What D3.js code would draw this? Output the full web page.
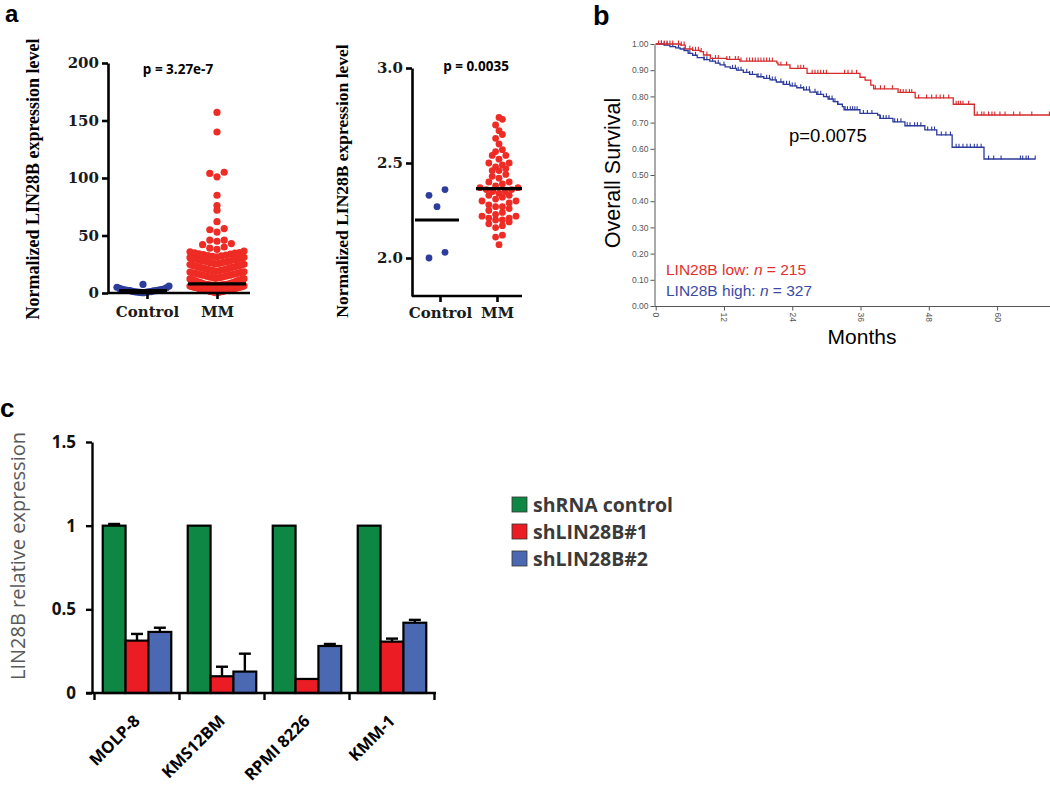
<!DOCTYPE html>
<html><head><meta charset="utf-8">
<script src="https://cdn.jsdelivr.net/npm/d3@7"></script>
<style>
body{margin:0;background:#fff}
svg{display:block}
.ax path,.ax line{stroke:#000;stroke-width:2.6;fill:none}
.ax text{font-family:"DejaVu Serif",serif;font-weight:bold;font-size:15px;fill:#1a1a1a}
.km path,.km line{stroke:#555;stroke-width:1;fill:none}
.km text{font-family:"Liberation Sans",Arial,sans-serif;font-size:8.5px;fill:#555}
.bx path,.bx line{stroke:#000;stroke-width:2.4;fill:none}
.bx text{font-family:"Open Sans",sans-serif;font-weight:bold;font-size:17px;fill:#111}
</style>
</head><body>
<svg id="c" width="1050" height="787"></svg>
<script>
// ---------------- Panel a data ----------------
const groupsA = ["Control", "MM"];
const ctrlLeft = [0.3,0.5,0.6,0.8,1.0,1.0,1.2,1.5,1.8,2.0,2.0,2.2,2.5,2.8,3.0,3.2,3.5,4.0,4.5,5.0,6.0,7.5];
const mmLeft = [157,140,105,104,101,85,76,72,62,56,55,53,46,46,45,43,42,40,39,38,
  36.5,35.8,35.2,35,34.6,34.1,33.9,33.4,33,32.6,32.2,31.8,31.4,31,30.7,30.4,30.1,29.8,
  29.5,29.2,28.9,28.6,28.3,28,27.7,27.4,27.1,26.8,26.5,26.2,25.9,25.6,25.3,25,24.7,24.4,24.1,23.8,23.5,23.2,
  22.9,22.6,22.3,22,21.7,21.4,21.1,20.8,20.5,20.2,20,19.7,19.4,19.1,18.8,18.5,18.2,17.9,17.6,17.3,
  17,16.7,16.4,16.1,15.8,15.5,15.2,14.9,14.6,14.3,14,13.7,13.4,13.1,12.8,12.5,12.2,11.9,11.6,11.3,
  11,10.7,10.4,10.1,9.8,9.5,9.2,8.9,8.6,8.3,8,
  7.8,7.5,7.2,7,6.8,6.5,6.2,6,5.8,5.5,5.2,5,4.8,4.5,4.2,4,3.8,3.5,3.2,3,2.8,2.5,2.2,2,1.8,1.5,1.2,1,0.8,0.5,
  7.6,7.1,6.6,6.1,5.6,5.1,4.6,4.1,3.6,3.1,2.6,2.1,1.6,1.1,0.6,7.3,6.3,5.3,4.3,3.3,2.3,1.3,0.3,
  6.9,5.9,4.9,3.9,2.9,1.9,0.9,6.4,4.4,2.4,0.4,5.4,3.4,1.4];
const meanLeft = [2.0, 8.0];
const ctrlRight = [2.00, 2.03, 2.27, 2.33, 2.36];
const mmRight = [2.74,2.73,2.70,2.67,2.65,2.63,2.60,2.57,2.56,2.54,2.54,2.52,2.50,2.50,2.49,2.48,2.47,2.46,2.46,2.44,
  2.43,2.42,2.40,2.40,2.39,2.38,2.37,2.37,2.36,2.36,2.35,2.35,2.34,2.33,2.33,2.32,2.31,2.30,2.30,2.29,
  2.28,2.27,2.27,2.26,2.25,2.24,2.23,2.22,2.22,2.21,2.21,2.20,2.20,2.19,2.18,2.17,2.16,2.12,2.11,2.07];
const meanRight = [2.20, 2.365];
const pLeft = "p = 3.27e-7", pRight = "p = 0.0035";
const yTicksLeft = [0, 50, 100, 150, 200];
const yTicksRight = [2.0, 2.5, 3.0];

// ---------------- Panel b data ----------------
const kmLow = [[0,1],[4.3,0.996],[5.2,0.981],[6.5,0.976],[7.8,0.971],[8.4,0.958],[9.6,0.945],[12.5,0.941],[14.8,0.935],
  [21.3,0.928],[21.5,0.92],[23.6,0.907],[26.6,0.888],[35.9,0.873],[36.8,0.862],[37.8,0.843],[38.3,0.829],
  [42.6,0.815],[45.6,0.794],[52.3,0.770],[56,0.729],[69.3,0.729]];
const kmHigh = [[0,1],[1.5,0.996],[2.5,0.99],[3.5,0.985],[4.3,0.981],[5,0.975],[5.7,0.964],[6.5,0.957],[7.3,0.948],
  [8.5,0.94],[9.5,0.935],[10.5,0.927],[11.3,0.92],[12.2,0.913],[13.1,0.907],[14.2,0.9],[15.4,0.892],[16.5,0.884],
  [17.8,0.875],[19,0.869],[20.1,0.863],[21.2,0.855],[22.4,0.846],[23.6,0.84],[24.8,0.833],[26,0.825],[27.1,0.816],
  [28.3,0.808],[29.5,0.799],[30.3,0.79],[31.2,0.78],[32,0.77],[32.8,0.761],[33.1,0.749],[35.9,0.735],[39,0.729],
  [39.4,0.716],[41.7,0.703],[43.8,0.688],[47.3,0.672],[49.4,0.653],[52.1,0.606],[57.7,0.561],[66.7,0.561]];
const censLow = [0.5,1,1.5,2,2.5,3,4,4.5,5,6,6.5,7,7.5,8,9,10.5,11,12.5,13,14,14.5,15,16,16.5,17,17.5,18,18.5,19,19.5,
  20,20.5,22,23,25,25.5,26,27.5,28,28.5,29,29.5,30,33.2,33.8,34.5,35.3,38.6,39.5,40.2,41.6,43,43.5,44,44.6,45,
  46.2,47.6,48.5,49.3,50,50.6,51.5,52.8,53.2,53.6,54,55,56.5,57.3,57.7,58.5,59.1,59.6,60.5,61.4,62.9,64,66.1,69.2];
const censHigh = [1,1.5,2,3,4,5,6,7,8.5,9,10,11,12,13.5,14,14.5,15,16,16.5,17,18,18.5,19.5,20,20.5,21,22,22.5,23,23.5,
  24,24.5,25.5,26,26.5,27,28,28.5,29,30,30.5,31,31.5,32,33.3,33.7,34.2,34.6,35,35.4,36.5,37.2,38,39.5,40,40.5,41,
  42,42.5,43.1,44.2,44.7,45.5,46,46.6,47.8,48.5,49,50.2,51,51.8,52.8,53.3,54,54.7,55.3,56,56.5,57.2,58.5,59.4,60.7,
  64.1,64.5,65.1,65.5,66.7];
const kmYTicks = [0,0.1,0.2,0.3,0.4,0.5,0.6,0.7,0.8,0.9,1.0];
const kmXTicks = [0, 12, 24, 36, 48, 60];
const kmLegend = [["LIN28B low: ", "n", " = 215"], ["LIN28B high: ", "n", " = 327"]];
const kmP = "p=0.0075";

// ---------------- Panel c data ----------------
const cellLines = ["MOLP-8", "KMS12BM", "RPMI 8226", "KMM-1"];
const seriesNames = ["shRNA control", "shLIN28B#1", "shLIN28B#2"];
const shControl = [1.0, 1.0, 1.0, 1.0];
const sh1 = [0.313, 0.100, 0.084, 0.307];
const sh2 = [0.365, 0.128, 0.281, 0.420];
const errControl = [0.01, 0, 0, 0];
const err1 = [0.04, 0.057, 0, 0.018];
const err2 = [0.025, 0.107, 0.012, 0.017];
const barTicks = [0, 0.5, 1, 1.5];

// ======================================================
const svg = d3.select("#c");
const label = (t, x, y, s) => svg.append("text").attr("x", x).attr("y", y).text(t)
  .style("font-family", "'Liberation Sans',Arial,sans-serif").style("font-weight", "bold").style("font-size", s + "px");
label("a", 5, 22, 24); label("b", 593, 24.5, 27); label("c", 0, 417, 26);

// bin-based beeswarm (GraphPad-like)
function swarm(values, yS, cx, r, maxW, opt) {
  const h = opt.h || 2 * r, off = opt.off || 0, msp = opt.msp || 2 * r, y0 = yS.range()[0];
  const bins = d3.group(values.map(v => ({v, y: yS(v)})), d => Math.floor((y0 - d.y) / h + off));
  const out = [];
  for (const [, arr] of bins) {
    arr.sort((a, b) => a.v - b.v);
    const n = arr.length;
    const sp = n > 1 ? Math.min(msp, maxW / (n - 1)) : 0;
    const offs = d3.range(n).map(i => (i - (n - 1) / 2) * sp)
      .sort((a, b) => Math.abs(a) - Math.abs(b) || a - b);
    arr.forEach((d, i) => out.push({x: cx + offs[i], y: d.y}));
  }
  return out;
}

function scatterPanel(o) {
  const g = svg.append("g");
  const y = d3.scaleLinear().domain(o.ydom).range(o.yrange);
  const x = d3.scalePoint().domain(groupsA).range(o.xpts);
  const sets = [[o.ctrl, "#2c3d9c", o.wC, o.optC], [o.mm, "#ee2b24", o.wM, {}]];
  sets.forEach(([vals, col, w, opt], i) => {
    const pts = swarm(vals, y, x(groupsA[i]) + o.shift[i], o.r, w, opt);
    g.append("g").selectAll("circle").data(pts).join("circle")
      .attr("cx", d => d.x).attr("cy", d => d.y).attr("r", o.r).attr("fill", col);
  });
  o.means.forEach((m, i) => {
    const cx = x(groupsA[i]) + o.shift[i];
    g.append("line").attr("x1", cx - o.mw[i]).attr("x2", cx + o.mw[i])
      .attr("y1", y(m)).attr("y2", y(m)).attr("stroke", "#000").attr("stroke-width", 3.2);
  });
  g.append("g").attr("class", "ax").attr("transform", `translate(${o.ax},0)`)
    .call(d3.axisLeft(y).tickValues(o.ticks).tickFormat(o.fmt).tickSize(6).tickSizeOuter(0).tickPadding(o.tp));
  const xa = g.append("g").attr("class", "ax").attr("transform", `translate(0,${o.yrange[0]})`)
    .call(d3.axisBottom(x).tickSize(6).tickSizeOuter(0).tickPadding(o.xp));
  xa.select(".domain").attr("d", `M${o.ax},0H${o.xend}`);
  g.append("text").attr("transform", `translate(${o.tx},${o.ty}) rotate(-90)`).attr("text-anchor", "middle")
    .style("font-family", "'Liberation Serif',serif").style("font-weight", "bold").style("font-size", o.tfs + "px")
    .text("Normalized LIN28B expression level");
  g.append("text").attr("x", o.px).attr("y", o.py).attr("text-anchor", "middle")
    .style("font-family", "'Open Sans',sans-serif").style("font-weight", "bold").style("font-size", "13.5px")
    .text(o.p);
}

scatterPanel({ydom: [0, 200], yrange: [293, 63], xpts: [147, 217], shift: [-4, 0], ctrl: ctrlLeft, mm: mmLeft,
  r: 3.6, wC: 52, wM: 54, optC: {}, means: meanLeft, mw: [24, 29], ax: 108, xend: 250, ticks: yTicksLeft,
  fmt: d3.format("d"), tp: 3, xp: 7, tx: 39, ty: 179, tfs: 18, px: 178, py: 74, p: pLeft});
scatterPanel({ydom: [1.8, 3.0], yrange: [296, 68], xpts: [440, 497], shift: [-3, 2], ctrl: ctrlRight, mm: mmRight,
  r: 3.4, wC: 21, wM: 38, optC: {h: 14, off: 0.3, msp: 16}, means: meanRight, mw: [22, 23], ax: 412, xend: 522,
  ticks: yTicksRight, fmt: d3.format(".1f"), tp: 3, xp: 5, tx: 348, ty: 181, tfs: 17.5, px: 476, py: 71, p: pRight});

// ---------------- Panel b ----------------
{
  const g = svg.append("g");
  const x = d3.scaleLinear().domain([0, 69.3]).range([655.7, 1050]);
  const y = d3.scaleLinear().domain([0, 1]).range([306, 44]);
  g.append("g").attr("class", "km").attr("transform", "translate(654.5,0)")
    .call(d3.axisLeft(y).tickValues(kmYTicks).tickFormat(d3.format(".2f")).tickSize(4).tickSizeOuter(0).tickPadding(2));
  const xa = g.append("g").attr("class", "km").attr("transform", "translate(0,306.5)")
    .call(d3.axisBottom(x).tickValues(kmXTicks).tickSize(4).tickSizeOuter(0));
  xa.select(".domain").attr("d", "M654.5,0H1050");
  xa.selectAll(".tick text").attr("y", 0).attr("x", 6).attr("dy", ".35em")
    .attr("transform", "rotate(90)").style("text-anchor", "start");
  const curves = [[kmHigh, censHigh, "#2b3a9b"], [kmLow, censLow, "#d62a2c"]];
  const line = d3.line().x(d => x(d[0])).y(d => y(d[1])).curve(d3.curveStepAfter);
  const surv = (km, t) => { let s = 1; for (const p of km) if (p[0] <= t) s = p[1]; return s; };
  curves.forEach(([km, cens, col]) => {
    g.append("path").attr("d", line(km)).attr("fill", "none").attr("stroke", col).attr("stroke-width", 1.3);
    g.append("g").selectAll("line").data(cens).join("line")
      .attr("x1", d => x(d)).attr("x2", d => x(d))
      .attr("y1", d => y(surv(km, d)) - 3.5).attr("y2", d => y(surv(km, d)) + 0.5)
      .attr("stroke", col).attr("stroke-width", 1.1);
  });
  g.append("text").attr("transform", "translate(620,173) rotate(-90)").attr("text-anchor", "middle")
    .style("font-family", "'Liberation Sans',Arial,sans-serif").style("font-size", "21.5px").text("Overall Survival");
  g.append("text").attr("x", 862).attr("y", 344).attr("text-anchor", "middle")
    .style("font-family", "'Liberation Sans',Arial,sans-serif").style("font-size", "21px").text("Months");
  g.append("text").attr("x", 789).attr("y", 142)
    .style("font-family", "'Liberation Sans',Arial,sans-serif").style("font-size", "18.5px").text(kmP);
  const legCols = ["#e3302d", "#3b4aa6"];
  kmLegend.forEach((parts, i) => {
    const t = g.append("text").attr("x", 666).attr("y", 275 + i * 21)
      .style("font-family", "'Liberation Sans',Arial,sans-serif").style("font-size", "15.5px").attr("fill", legCols[i]);
    parts.forEach((p, j) => t.append("tspan").text(p).style("font-style", j === 1 ? "italic" : "normal"));
  });
}

// ---------------- Panel c ----------------
{
  const g = svg.append("g");
  const y = d3.scaleLinear().domain([0, 1.5]).range([693, 442]);
  const x0 = d3.scaleBand().domain(cellLines).range([94.5, 434.5]);
  const x1 = d3.scaleBand().domain(seriesNames).range([0, x0.bandwidth()]).paddingOuter(0.36);
  const cols = ["#0f8744", "#ec1c24", "#4b69b3"];
  const vals = [shControl, sh1, sh2], errs = [errControl, err1, err2];
  const data = [];
  cellLines.forEach((c, i) => seriesNames.forEach((s, j) => data.push({c, s, j, v: vals[j][i], e: errs[j][i]})));
  g.append("g").selectAll("g").data(data.filter(d => d.e > 0)).join("g").each(function (d) {
    const cx = x0(d.c) + x1(d.s) + x1.bandwidth() / 2;
    const sel = d3.select(this);
    sel.append("line").attr("x1", cx).attr("x2", cx).attr("y1", y(d.v)).attr("y2", y(d.v + d.e))
      .attr("stroke", "#000").attr("stroke-width", 2.4);
    sel.append("line").attr("x1", cx - 6).attr("x2", cx + 6).attr("y1", y(d.v + d.e)).attr("y2", y(d.v + d.e))
      .attr("stroke", "#000").attr("stroke-width", 2.4);
  });
  g.append("g").selectAll("rect").data(data).join("rect")
    .attr("x", d => x0(d.c) + x1(d.s)).attr("width", x1.bandwidth())
    .attr("y", d => y(d.v)).attr("height", d => y(0) - y(d.v))
    .attr("fill", d => cols[d.j]).attr("stroke", "#000").attr("stroke-width", 2.2);
  g.append("g").attr("class", "bx").attr("transform", "translate(92,0)")
    .call(d3.axisLeft(y).tickValues(barTicks).tickFormat(d3.format("~g")).tickSize(6).tickSizeOuter(0).tickPadding(10));
  const xa = g.append("g").attr("class", "bx").attr("transform", "translate(0,693)")
    .call(d3.axisBottom(x0).tickSize(0).tickSizeOuter(0));
  xa.select(".domain").attr("d", "M86,0H436");
  xa.selectAll(".tick text").attr("transform", "translate(4,29) rotate(-45)").attr("y", 0).attr("dy", 0)
    .style("text-anchor", "end").style("font-size", "16.5px").style("fill", "#000");
  const bounds = cellLines.map(c => x0(c)).concat([x0.range()[1]]);
  xa.selectAll(".bt").data(bounds).join("line").attr("class", "bt")
    .attr("x1", d => d).attr("x2", d => d).attr("y1", 0).attr("y2", 7).attr("stroke", "#000").attr("stroke-width", 2.4);
  g.append("text").attr("transform", "translate(25,556) rotate(-90)").attr("text-anchor", "middle")
    .style("font-family", "'Open Sans',sans-serif").style("font-size", "20px").attr("fill", "#595959")
    .text("LIN28B relative expression");
  const lg = g.append("g").attr("transform", "translate(512,497)");
  seriesNames.forEach((s, i) => {
    lg.append("rect").attr("x", 0).attr("y", i * 27).attr("width", 15).attr("height", 15)
      .attr("fill", cols[i]).attr("stroke", "#333").attr("stroke-width", 0.8);
    lg.append("text").attr("x", 21).attr("y", i * 27 + 14.5).text(s)
      .style("font-family", "'Open Sans',sans-serif").style("font-weight", "bold").style("font-size", "19.5px")
      .attr("fill", "#3a3a3a");
  });
}
</script>
</body></html>
